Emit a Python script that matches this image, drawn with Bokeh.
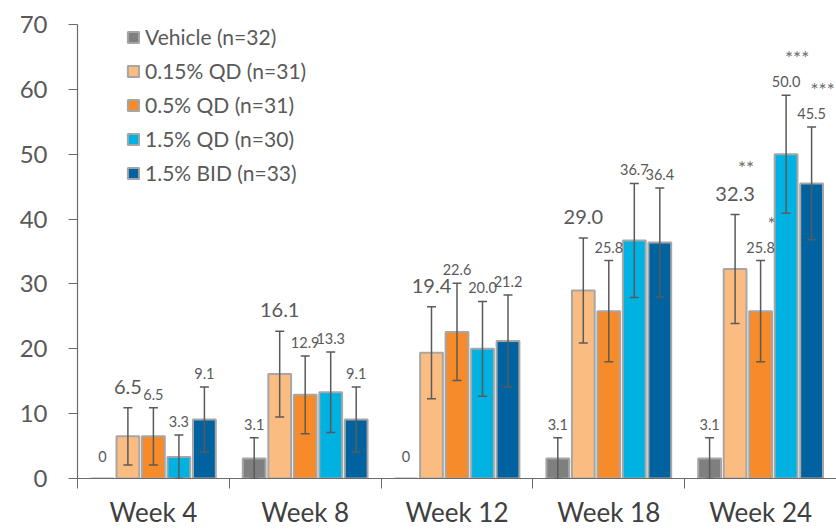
from bokeh.plotting import figure
from bokeh.models import (ColumnDataSource, Range1d, FixedTicker, Whisker, TeeHead,
                          Legend, LegendItem, LabelSet)
from bokeh.core.properties import value
from bokeh.embed import file_html
from bokeh.resources import INLINE

# ---- data ----
weeks = ["Week 4", "Week 8", "Week 12", "Week 18", "Week 24"]
series_names = ["Vehicle (n=32)", "0.15% QD (n=31)", "0.5% QD (n=31)",
                "1.5% QD (n=30)", "1.5% BID (n=33)"]

vehicle = [0, 3.1, 0, 3.1, 3.1]
qd015 = [6.5, 16.1, 19.4, 29.0, 32.3]
qd05 = [6.5, 12.9, 22.6, 25.8, 25.8]
qd15 = [3.3, 13.3, 20.0, 36.7, 50.0]
bid15 = [9.1, 9.1, 21.2, 36.4, 45.5]

vehicle_err = [0, 3.2, 0, 3.2, 3.2]
qd015_err = [4.4, 6.6, 7.1, 8.1, 8.4]
qd05_err = [4.4, 6.0, 7.5, 7.8, 7.8]
qd15_err = [3.4, 6.2, 7.3, 8.8, 9.1]
bid15_err = [5.0, 5.0, 7.1, 8.4, 8.7]

vehicle_sig = ["", "", "", "", ""]
qd015_sig = ["", "", "", "", "**"]
qd05_sig = ["", "", "", "", "*"]
qd15_sig = ["", "", "", "", "***"]
bid15_sig = ["", "", "", "", "***"]

y_ticks = [0, 10, 20, 30, 40, 50, 60, 70]

colors = ["#7F7F7F", "#FBBC81", "#F78B2A", "#00B2E2", "#00639F"]
big_label = [False, True, False, False, False]

series_vals = [vehicle, qd015, qd05, qd15, bid15]
series_errs = [vehicle_err, qd015_err, qd05_err, qd15_err, bid15_err]
series_sig = [vehicle_sig, qd015_sig, qd05_sig, qd15_sig, bid15_sig]

TXT = "#595959"
AXC = "#6B6B6B"
FONT = "Lato"

p = figure(frame_width=759, frame_height=454, x_range=Range1d(0, len(weeks)), y_range=Range1d(0, 70),
           output_backend="svg", toolbar_location=None,
           min_border_left=77, min_border_right=0, min_border_top=24, min_border_bottom=52)
p.outline_line_color = None
p.xgrid.grid_line_color = None
p.ygrid.grid_line_color = None
p.background_fill_color = "white"
p.border_fill_color = "white"

slot = 0.168
bar_w = 0.15
legend_items = []
for k, (name, vals, errs, sig) in enumerate(zip(series_names, series_vals, series_errs, series_sig)):
    xs = [i + 0.5 + (k - 2) * slot for i in range(len(weeks))]
    src = ColumnDataSource(dict(x=xs, top=vals))
    r = p.vbar(x="x", top="top", width=bar_w, source=src, fill_color=colors[k],
               line_color="#A6A6A6", line_width=2)
    legend_items.append(LegendItem(label=name, renderers=[r]))

    # error bars
    wx, wu, wl = [], [], []
    for x, v, e in zip(xs, vals, errs):
        if e > 0:
            wx.append(x); wu.append(v + e); wl.append(max(v - e, 0))
    wsrc = ColumnDataSource(dict(x=wx, upper=wu, lower=wl))
    w = Whisker(base="x", upper="upper", lower="lower", source=wsrc,
                line_color="#5A5A5A", line_width=1.5, level="overlay",
                upper_head=TeeHead(size=9, line_color="#5A5A5A", line_width=1.5),
                lower_head=TeeHead(size=9, line_color="#5A5A5A", line_width=1.5))
    p.add_layout(w)

    # value labels
    labels, ytop, yoff, soff = [], [], [], []
    for v, e in zip(vals, errs):
        labels.append("0" if v == 0 else f"{v:.1f}")
        ytop.append(v + e)
        if v == 0:
            yoff.append(17)
        elif big_label[k]:
            yoff.append(14)
        else:
            yoff.append(8)
        soff.append(yoff[-1] + (26 if big_label[k] else 22))
    lsrc = ColumnDataSource(dict(x=xs, y=ytop, text=labels, yoff=yoff, sig=sig, soff=soff))
    ls = LabelSet(x="x", y="y", text="text", source=lsrc, y_offset="yoff",
                  text_align="center", text_baseline="alphabetic",
                  text_font=value(FONT),
                  text_font_size=value("20px" if big_label[k] else "14.5px"),
                  text_color=value(TXT), level="overlay")
    p.add_layout(ls)
    ss = LabelSet(x="x", y="y", text="sig", source=lsrc, y_offset="soff", x_offset=11,
                  text_align="center", text_baseline="alphabetic",
                  text_font=value(FONT), text_font_size=value("19px"),
                  text_color=value("#6A6A6A"), level="overlay")
    p.add_layout(ss)

# x axis: boundary ticks as minor ticks, labels at centres
xa = p.xaxis[0]
xa.ticker = FixedTicker(ticks=[i + 0.5 for i in range(len(weeks))],
                        minor_ticks=list(range(len(weeks) + 1)))
xa.major_label_overrides = {i + 0.5: wk for i, wk in enumerate(weeks)}
xa.major_tick_out = 0
xa.major_tick_in = 0
xa.minor_tick_out = 10
xa.minor_tick_in = 0
xa.minor_tick_line_color = AXC
xa.axis_line_color = AXC
xa.axis_line_width = 1.2
xa.major_label_standoff = 7
xa.major_label_text_font = FONT
xa.major_label_text_font_size = "26px"
xa.major_label_text_color = "#404040"

ya = p.yaxis[0]
ya.ticker = FixedTicker(ticks=y_ticks)
ya.major_tick_out = 9
ya.major_tick_in = 0
ya.minor_tick_out = 0
ya.minor_tick_in = 0
ya.major_tick_line_color = AXC
ya.axis_line_color = AXC
ya.axis_line_width = 1.2
ya.major_label_standoff = 21
ya.major_label_text_font = FONT
ya.major_label_text_font_size = "24px"
ya.major_label_text_color = TXT

legend = Legend(items=legend_items, location=(49, 293), orientation="vertical",
                background_fill_alpha=0, border_line_color=None,
                label_text_font=FONT, label_text_font_size="21px", label_text_color=TXT,
                glyph_width=14, glyph_height=14, label_height=25, spacing=9,
                padding=0, margin=0, label_standoff=5)
p.add_layout(legend)

open("out.html", "w").write(file_html(p, INLINE))
